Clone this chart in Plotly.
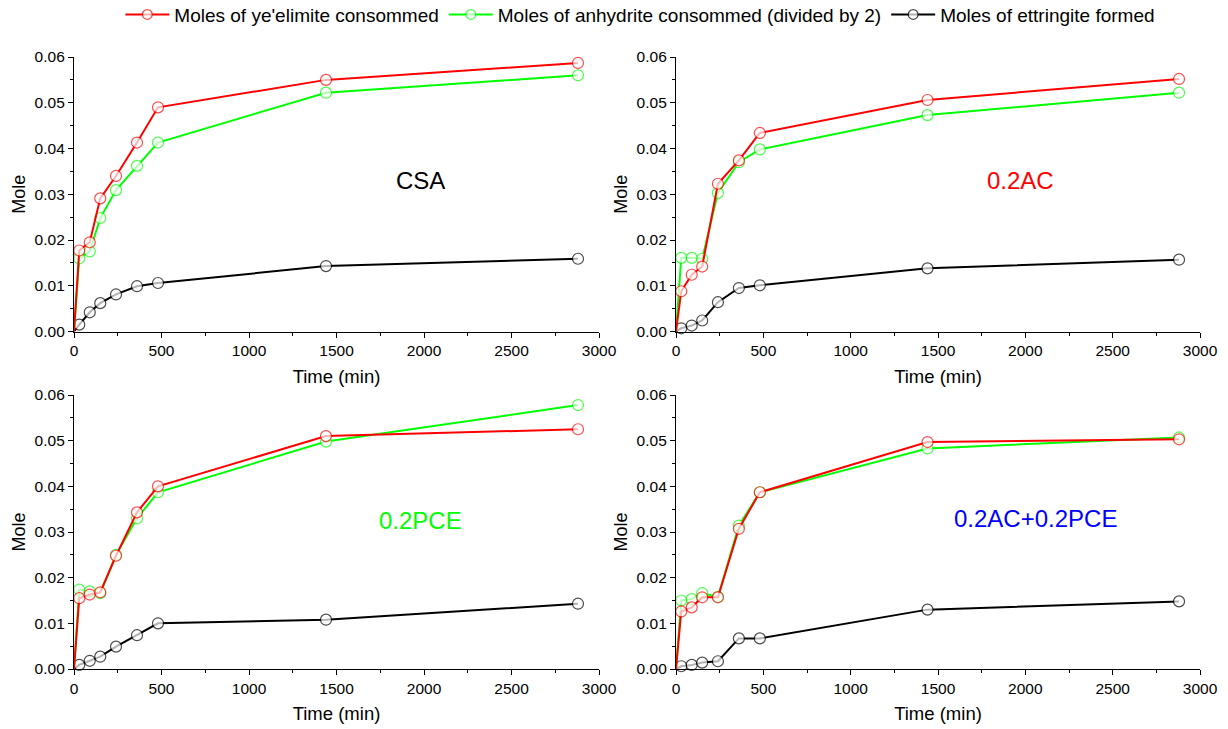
import plotly.graph_objects as go

time_min = [0, 30, 90, 150, 240, 360, 480, 1440, 2880]

panels = ["CSA", "0.2AC", "0.2PCE", "0.2AC+0.2PCE"]

yeelimite_csa = [0, 0.0177, 0.0195, 0.0291, 0.0340, 0.0413, 0.0490, 0.0550, 0.0587]
anhydrite_csa = [0, 0.0160, 0.0175, 0.0248, 0.0309, 0.0362, 0.0413, 0.0522, 0.0560]
ettringite_csa = [0, 0.0015, 0.0042, 0.0062, 0.0081, 0.0099, 0.0106, 0.0143, 0.0159]

yeelimite_ac = [0, 0.0088, 0.0124, 0.0142, 0.0323, 0.0374, 0.0434, 0.0506, 0.0552]
anhydrite_ac = [0, 0.0161, 0.0161, 0.0159, 0.0303, 0.0370, 0.0398, 0.0473, 0.0522]
ettringite_ac = [0, 0.0007, 0.0013, 0.0024, 0.0064, 0.0095, 0.0101, 0.0138, 0.0157]

yeelimite_pce = [0, 0.0155, 0.0163, 0.0168, 0.0248, 0.0343, 0.0400, 0.0510, 0.0525]
anhydrite_pce = [0, 0.0174, 0.0170, 0.0166, 0.0250, 0.0330, 0.0387, 0.0498, 0.0578]
ettringite_pce = [0, 0.0009, 0.0018, 0.0027, 0.0049, 0.0074, 0.0100, 0.0108, 0.0143]

yeelimite_acpce = [0, 0.0126, 0.0135, 0.0157, 0.0157, 0.0307, 0.0387, 0.0497, 0.0503]
anhydrite_acpce = [0, 0.0150, 0.0153, 0.0166, 0.0158, 0.0314, 0.0387, 0.0483, 0.0507]
ettringite_acpce = [0, 0.0006, 0.0009, 0.0014, 0.0017, 0.0067, 0.0067, 0.0130, 0.0148]

series_names = [
    "Moles of ye'elimite consommed",
    "Moles of anhydrite consommed (divided by 2)",
    "Moles of ettringite formed",
]
series_colors = ["#FF0000", "#00FF00", "#000000"]
label_colors = ["#000000", "#FF0000", "#00FF00", "#0000FF"]

data = [
    [yeelimite_csa, anhydrite_csa, ettringite_csa],
    [yeelimite_ac, anhydrite_ac, ettringite_ac],
    [yeelimite_pce, anhydrite_pce, ettringite_pce],
    [yeelimite_acpce, anhydrite_acpce, ettringite_acpce],
]

W, H = 1228, 729
xdoms = [(74 / W, 599 / W), (676 / W, 1200 / W)]
ydoms = [(1 - 331.5 / H, 1 - 57 / H), (1 - 669 / H, 1 - 395 / H)]

fig = go.Figure()
FONT = "Liberation Sans, Arial, sans-serif"

msizes = [0] + [11] * (len(time_min) - 1)

for p in range(4):
    ax = p + 1
    xa = "x" if ax == 1 else f"x{ax}"
    ya = "y" if ax == 1 else f"y{ax}"
    for s in [2, 1, 0]:
        fig.add_trace(go.Scatter(
            x=time_min, y=data[p][s], mode="lines+markers",
            name=series_names[s],
            line=dict(color=series_colors[s], width=2),
            marker=dict(symbol="circle", size=msizes, color="white",
                        line=dict(color=series_colors[s], width=1.2)),
            xaxis=xa, yaxis=ya, showlegend=(p == 0), legendrank=s + 1,
            cliponaxis=False,
        ))

layout = dict(
    width=W, height=H,
    margin=dict(l=0, r=0, t=0, b=0, autoexpand=False),
    paper_bgcolor="white", plot_bgcolor="white",
    font=dict(family=FONT, size=15.5, color="black"),
    showlegend=True,
    legend=dict(orientation="h", x=0.098, xanchor="left", y=1.006, yanchor="top",
                font=dict(size=19), itemwidth=44, tracegroupgap=0,
                traceorder="normal", bgcolor="rgba(0,0,0,0)"),
)

for p in range(4):
    r, c = divmod(p, 2)
    sx = "xaxis" if p == 0 else f"xaxis{p+1}"
    sy = "yaxis" if p == 0 else f"yaxis{p+1}"
    anchor_x = "y" if p == 0 else f"y{p+1}"
    anchor_y = "x" if p == 0 else f"x{p+1}"
    layout[sx] = dict(
        domain=xdoms[c], anchor=anchor_x, range=[0, 3000], dtick=500,
        showgrid=False, zeroline=False, showline=True, linecolor="black", linewidth=1.3,
        ticks="outside", ticklen=5, tickwidth=1.3, tickcolor="black",
        minor=dict(ticks="outside", ticklen=3, tickwidth=1.3, tickcolor="black", dtick=250),
        tickfont=dict(size=15.5), automargin=False,
        title=dict(text="Time (min)", font=dict(size=18.5), standoff=11),
    )
    layout[sy] = dict(
        domain=ydoms[r], anchor=anchor_y, range=[0, 0.06], dtick=0.01, tickformat=".2f",
        showgrid=False, zeroline=False, showline=True, linecolor="black", linewidth=1.3,
        ticks="outside", ticklen=5, tickwidth=1.3, tickcolor="black",
        minor=dict(ticks="outside", ticklen=3, tickwidth=1.3, tickcolor="black", dtick=0.005),
        tickfont=dict(size=15.5), automargin=False,
        title=dict(text="Mole", font=dict(size=18), standoff=4),
    )

fig.update_layout(**layout)

label_pos = [(420, 180), (1020, 180), (420, 520), (1035, 518)]
for p in range(4):
    px, py = label_pos[p]
    fig.add_annotation(x=px / W, y=1 - py / H, xref="paper", yref="paper",
                       text=panels[p], showarrow=False,
                       font=dict(size=24, color=label_colors[p], family=FONT),
                       xanchor="center", yanchor="middle")

fig.write_html("out.html")
